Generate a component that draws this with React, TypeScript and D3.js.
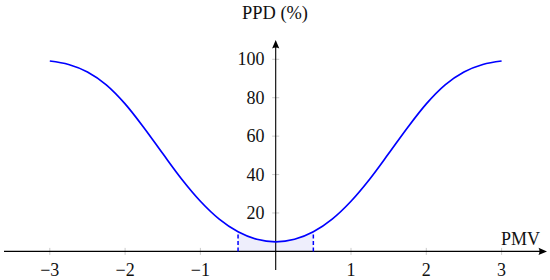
import React, { useEffect, useRef } from 'react'
import * as d3 from 'd3'

// PMV / PPD points
const pmv = [-3, -2.75, -2.5, -2.25, -2, -1.75, -1.5, -1.25, -1, -0.75, -0.5, -0.25, 0, 0.25, 0.5, 0.75, 1, 1.25, 1.5, 1.75, 2, 2.25, 2.5, 2.75, 3]
const ppd = [99.1, 97.3, 93.4, 86.7, 76.8, 64.4, 50.9, 37.7, 26.1, 16.8, 10.2, 6.3, 5, 6.3, 10.2, 16.8, 26.1, 37.7, 50.9, 64.4, 76.8, 86.7, 93.4, 97.3, 99.1]
const xTicks = [-3, -2, -1, 1, 2, 3]
const yTicks = [20, 40, 60, 80, 100]
const band = [-0.5, 0.5]

const W = 550
const H = 280
const FONT = 'Liberation Serif'

const App = () => {
  const ref = useRef(null)

  useEffect(() => {
    const svg = d3.select(ref.current)
    svg.selectAll('*').remove()

    const x = d3.scaleLinear().domain([-3, 3]).range([49.8, 501.6])
    const y = d3.scaleLinear().domain([0, 100]).range([251.4, 59.3])
    const pts = pmv.map((p, i) => ({ p, v: ppd[i] }))
    const x0 = x(0)
    const y0 = y(0)

    // comfort band fill
    const inBand = pts.filter(d => d.p >= band[0] && d.p <= band[1])
    svg.append('path')
      .attr('d', d3.area().x(d => x(d.p)).y0(y0).y1(d => y(d.v)).curve(d3.curveMonotoneX)(inBand))
      .attr('fill', '#eeeefc')

    // ticks
    const tickCol = '#b4b4b4'
    svg.append('g').selectAll('line').data(xTicks).join('line')
      .attr('x1', d => x(d)).attr('x2', d => x(d))
      .attr('y1', y0 - 3.5).attr('y2', y0 + 3.5)
      .attr('stroke', tickCol).attr('stroke-width', 0.7)
    svg.append('g').selectAll('line').data(yTicks).join('line')
      .attr('x1', x0 - 3.5).attr('x2', x0 + 3.5)
      .attr('y1', d => y(d)).attr('y2', d => y(d))
      .attr('stroke', tickCol).attr('stroke-width', 0.7)

    // axes
    svg.append('line').attr('x1', 4).attr('x2', 541).attr('y1', y0).attr('y2', y0)
      .attr('stroke', '#000').attr('stroke-width', 1.1)
    svg.append('line').attr('x1', x0).attr('x2', x0).attr('y1', 270).attr('y2', 46)
      .attr('stroke', '#000').attr('stroke-width', 1.1)
    svg.append('path')
      .attr('d', `M547,${y0} L538.5,${y0 - 3.6} Q540.5,${y0} 538.5,${y0 + 3.6} Z`)
      .attr('fill', '#000')
    svg.append('path')
      .attr('d', `M${x0},40 L${x0 - 3.6},48.5 Q${x0},46.5 ${x0 + 3.6},48.5 Z`)
      .attr('fill', '#000')

    // dashed band edges
    band.forEach(b => {
      const v = ppd[pmv.indexOf(b)]
      svg.append('line')
        .attr('x1', x(b)).attr('x2', x(b))
        .attr('y1', y0).attr('y2', y(v))
        .attr('stroke', '#0000ff').attr('stroke-width', 1.5)
        .attr('stroke-dasharray', '4,2.5')
    })

    // curve
    svg.append('path')
      .attr('d', d3.line().x(d => x(d.p)).y(d => y(d.v)).curve(d3.curveMonotoneX)(pts))
      .attr('fill', 'none')
      .attr('stroke', '#0000ff')
      .attr('stroke-width', 1.7)

    const txt = sel => sel.style('font-family', FONT).style('font-size', '18px').attr('fill', '#111')

    // labels
    svg.append('g').selectAll('text').data(xTicks).join('text')
      .attr('x', d => x(d)).attr('y', 275.5)
      .attr('text-anchor', 'middle')
      .call(txt)
      .text(d => (d < 0 ? '\u2212' + Math.abs(d) : String(d)))
    svg.append('g').selectAll('text').data(yTicks).join('text')
      .attr('x', 264.5).attr('y', d => y(d) + 6)
      .attr('text-anchor', 'end')
      .call(txt)
      .text(d => d)

    svg.append('text')
      .attr('x', 275).attr('y', 19)
      .attr('text-anchor', 'middle')
      .call(txt)
      .attr('textLength', 66).attr('lengthAdjust', 'spacingAndGlyphs')
      .text('PPD (%)')
    svg.append('text')
      .attr('x', 540).attr('y', 245)
      .attr('text-anchor', 'end')
      .call(txt)
      .text('PMV')
  }, [])

  return (
    <svg ref={ref} width={W} height={H} style={{ position: 'absolute', left: 0, top: 0, background: '#fff' }} />
  )
}

export default App
